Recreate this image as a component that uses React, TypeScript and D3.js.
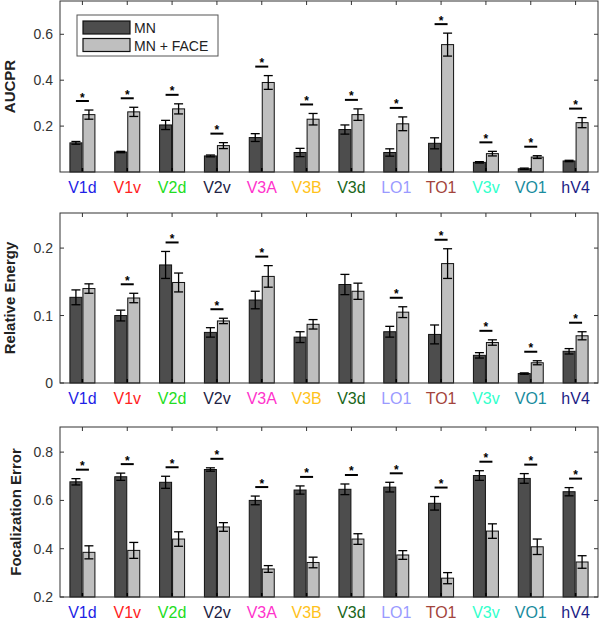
import React from "react";
import * as d3 from "d3";

const categories = ["V1d", "V1v", "V2d", "V2v", "V3A", "V3B", "V3d", "LO1", "TO1", "V3v", "VO1", "hV4"];
const labelColors = ["#1f1fe6", "#ff2222", "#22dd22", "#222244", "#ff33cc", "#ffc21a", "#1a661a", "#9a9aff", "#a3443c", "#33ffcc", "#1a8c9e", "#1c1c85"];

// Panel 1: AUCPR
const aucprMN = [0.127, 0.087, 0.205, 0.07, 0.15, 0.085, 0.185, 0.085, 0.125, 0.042, 0.014, 0.048];
const aucprMNErr = [0.006, 0.003, 0.02, 0.004, 0.017, 0.018, 0.02, 0.016, 0.024, 0.003, 0.003, 0.003];
const aucprFace = [0.25, 0.262, 0.275, 0.115, 0.39, 0.23, 0.25, 0.21, 0.555, 0.08, 0.065, 0.215];
const aucprFaceErr = [0.02, 0.02, 0.022, 0.013, 0.03, 0.025, 0.025, 0.03, 0.05, 0.01, 0.006, 0.022];
const aucprSig = [true, true, true, true, true, true, true, true, true, true, true, true];
const aucprTicks = [0.2, 0.4, 0.6];

// Panel 2: Relative Energy
const energyMN = [0.127, 0.1, 0.175, 0.075, 0.123, 0.068, 0.146, 0.076, 0.072, 0.041, 0.014, 0.047];
const energyMNErr = [0.011, 0.008, 0.02, 0.007, 0.013, 0.008, 0.015, 0.008, 0.014, 0.004, 0.001, 0.004];
const energyFace = [0.14, 0.126, 0.149, 0.092, 0.158, 0.087, 0.136, 0.105, 0.177, 0.06, 0.03, 0.07];
const energyFaceErr = [0.007, 0.007, 0.014, 0.004, 0.016, 0.007, 0.012, 0.008, 0.022, 0.004, 0.003, 0.006];
const energySig = [false, true, true, true, true, false, false, true, true, true, true, true];
const energyTicks = [0, 0.1, 0.2];

// Panel 3: Focalization Error
const focalMN = [0.677, 0.698, 0.675, 0.728, 0.6, 0.643, 0.646, 0.655, 0.588, 0.703, 0.691, 0.636];
const focalMNErr = [0.013, 0.015, 0.025, 0.007, 0.018, 0.017, 0.022, 0.02, 0.028, 0.02, 0.02, 0.017];
const focalFace = [0.385, 0.393, 0.44, 0.49, 0.316, 0.343, 0.44, 0.374, 0.278, 0.473, 0.408, 0.345];
const focalFaceErr = [0.027, 0.033, 0.03, 0.018, 0.014, 0.022, 0.022, 0.018, 0.023, 0.03, 0.032, 0.026];
const focalSig = [true, true, true, true, true, true, true, true, true, true, true, true];
const focalTicks = [0.2, 0.4, 0.6, 0.8];

const seriesNames = ["MN", "MN + FACE"];

const DARK = "#4d4d4d";
const LIGHT = "#bfbfbf";
const FONT = "'Liberation Sans', Arial, sans-serif";
const LEFT = 60;
const RIGHT = 598;

type PanelProps = {
  top: number;
  bottom: number;
  domain: [number, number];
  ticks: number[];
  label: string;
  labelX: number;
  mn: number[];
  mnErr: number[];
  face: number[];
  faceErr: number[];
  sig: boolean[];
  legend?: boolean;
};

function Panel(p: PanelProps) {
  const x = d3.scaleBand<string>().domain(categories).range([LEFT, RIGHT]).padding(0);
  const y = d3.scaleLinear().domain(p.domain).range([p.bottom, p.top]);
  const base = y(p.domain[0]);
  const fmt = (v: number) => (v === 0 ? "0" : d3.format(".1f")(v));
  const barW = 12;
  const capHalf = 4.5;
  return (
    <g>
      {categories.map((c, i) => {
        const cx = x(c)! + x.bandwidth() / 2;
        const bars = [
          { v: p.mn[i], e: p.mnErr[i], x0: cx - 12.5, fill: DARK },
          { v: p.face[i], e: p.faceErr[i], x0: cx + 0.5, fill: LIGHT },
        ];
        const topErr = Math.min(y(p.mn[i] + p.mnErr[i]), y(p.face[i] + p.faceErr[i]));
        const lineY = topErr - 9;
        return (
          <g key={c}>
            {bars.map((b, j) => {
              const bx = b.x0 + barW / 2;
              return (
                <g key={j}>
                  <rect x={b.x0} y={y(b.v)} width={barW} height={base - y(b.v)} fill={b.fill} stroke="#111" strokeWidth={1} />
                  <line x1={bx} x2={bx} y1={y(b.v - b.e)} y2={y(b.v + b.e)} stroke="#000" strokeWidth={1.3} />
                  <line x1={bx - capHalf} x2={bx + capHalf} y1={y(b.v + b.e)} y2={y(b.v + b.e)} stroke="#000" strokeWidth={1.3} />
                  <line x1={bx - capHalf} x2={bx + capHalf} y1={y(b.v - b.e)} y2={y(b.v - b.e)} stroke="#000" strokeWidth={1.3} />
                </g>
              );
            })}
            {p.sig[i] && (
              <g>
                <line x1={cx - 6.5} x2={cx + 6.5} y1={lineY} y2={lineY} stroke="#000" strokeWidth={2} />
                <text x={cx} y={lineY + 0.5} textAnchor="middle" fontFamily={FONT} fontSize={12} fontWeight="bold" fill="#000">*</text>
              </g>
            )}
            <line x1={cx} x2={cx} y1={p.top} y2={p.top + 4} stroke="#333" />
            <line x1={cx} x2={cx} y1={p.bottom} y2={p.bottom - 4} stroke="#000" strokeWidth={1.5} />
            <text x={cx} y={p.bottom + 21} textAnchor="middle" fontFamily={FONT} fontSize={16} fill={labelColors[i]}>{c}</text>
          </g>
        );
      })}
      <rect x={LEFT} y={p.top} width={RIGHT - LEFT} height={p.bottom - p.top} fill="none" stroke="#333" strokeWidth={1} />
      {p.ticks.map((t) => (
        <g key={t}>
          <line x1={LEFT} x2={LEFT + 4} y1={y(t)} y2={y(t)} stroke="#333" />
          <line x1={RIGHT} x2={RIGHT - 4} y1={y(t)} y2={y(t)} stroke="#333" />
          <text x={LEFT - 7} y={y(t) + 5} textAnchor="end" fontFamily={FONT} fontSize={14} fill="#333">{fmt(t)}</text>
        </g>
      ))}
      <text
        transform={`translate(${p.labelX},${(p.top + p.bottom) / 2}) rotate(-90)`}
        textAnchor="middle"
        fontFamily={FONT}
        fontSize={15}
        fontWeight="bold"
        fill="#222"
        dy="0.35em"
      >
        {p.label}
      </text>
      {p.legend && (
        <g>
          <rect x={77} y={15} width={141} height={41} fill="#fff" stroke="#555" strokeWidth={1} />
          <rect x={83} y={21} width={47} height={13} fill={DARK} stroke="#111" strokeWidth={1.2} />
          <rect x={83} y={38.5} width={47} height={13} fill={LIGHT} stroke="#111" strokeWidth={1.2} />
          <text x={134} y={33} fontFamily={FONT} fontSize={14} fill="#222">{seriesNames[0]}</text>
          <text x={134} y={50.5} fontFamily={FONT} fontSize={14} fill="#222">{seriesNames[1]}</text>
        </g>
      )}
    </g>
  );
}

export default function App() {
  return (
    <svg width={600} height={620} style={{ position: "absolute", left: 0, top: 0, background: "#fff" }}>
      <rect width={600} height={620} fill="#fff" />
      <Panel top={1} bottom={172} domain={[0, 0.745]} ticks={aucprTicks} label="AUCPR" labelX={10}
        mn={aucprMN} mnErr={aucprMNErr} face={aucprFace} faceErr={aucprFaceErr} sig={aucprSig} legend />
      <Panel top={213} bottom={383} domain={[0, 0.252]} ticks={energyTicks} label="Relative Energy" labelX={10}
        mn={energyMN} mnErr={energyMNErr} face={energyFace} faceErr={energyFaceErr} sig={energySig} />
      <Panel top={427} bottom={597} domain={[0.2, 0.904]} ticks={focalTicks} label="Focalization Error" labelX={16}
        mn={focalMN} mnErr={focalMNErr} face={focalFace} faceErr={focalFaceErr} sig={focalSig} />
    </svg>
  );
}
